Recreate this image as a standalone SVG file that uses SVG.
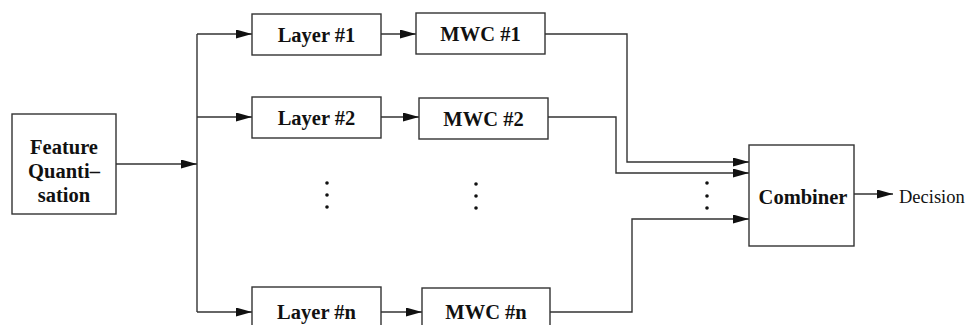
<svg xmlns="http://www.w3.org/2000/svg" width="968" height="325" viewBox="0 0 968 325">
<defs>
<marker id="ah" markerUnits="userSpaceOnUse" markerWidth="17" markerHeight="10" refX="16" refY="4.5" orient="auto">
<path d="M0,0 L16,4.5 L0,9 Z" fill="#111"/>
</marker>
<style>
.box{fill:#fff;stroke:#333;stroke-width:1.4}
.ln{fill:none;stroke:#333;stroke-width:1.4}
.b{font-family:"Liberation Serif","Times New Roman",serif;font-weight:bold;font-size:20.5px;fill:#111;text-anchor:middle}
.r{font-family:"Liberation Serif","Times New Roman",serif;font-size:18.5px;fill:#111}
.dot{fill:#111}
</style>
</defs>
<g id="connectors">
<path class="ln" d="M116,164 H197" marker-end="url(#ah)"/>
<path class="ln" d="M197,34 V312"/>
<path class="ln" d="M197,34 H252" marker-end="url(#ah)"/>
<path class="ln" d="M197,117 H252" marker-end="url(#ah)"/>
<path class="ln" d="M197,312 H252" marker-end="url(#ah)"/>
<path class="ln" d="M381,34 H416" marker-end="url(#ah)"/>
<path class="ln" d="M381,117 H419" marker-end="url(#ah)"/>
<path class="ln" d="M381,312 H422" marker-end="url(#ah)"/>
<path class="ln" d="M545,34 H627 V162 H749" marker-end="url(#ah)"/>
<path class="ln" d="M548,117 H616 V173 H749" marker-end="url(#ah)"/>
<path class="ln" d="M550,312 H632 V219 H749" marker-end="url(#ah)"/>
<path class="ln" d="M854,194 H893" marker-end="url(#ah)"/>
</g>
<g id="feature">
<rect class="box" x="12" y="114" width="104" height="100"/>
<text class="b" x="64" y="154">Feature</text>
<text class="b" x="64" y="178">Quanti–</text>
<text class="b" x="64" y="202">sation</text>
</g>
<g id="layer1"><rect class="box" x="252" y="14" width="129" height="41"/><text class="b" x="316.5" y="41.5">Layer #1</text></g>
<g id="layer2"><rect class="box" x="252" y="97" width="129" height="41"/><text class="b" x="316.5" y="124.5">Layer #2</text></g>
<g id="layern"><rect class="box" x="252" y="287" width="129" height="42"/><text class="b" x="316.5" y="319">Layer #n</text></g>
<g id="mwc1"><rect class="box" x="416" y="13" width="129" height="41"/><text class="b" x="480.5" y="40.5">MWC #1</text></g>
<g id="mwc2"><rect class="box" x="419" y="98" width="129" height="41"/><text class="b" x="483.5" y="125.5">MWC #2</text></g>
<g id="mwcn"><rect class="box" x="422" y="288" width="128" height="42"/><text class="b" x="486" y="319">MWC #n</text></g>
<g id="combiner"><rect class="box" x="749" y="145" width="105" height="101"/><text class="b" x="803" y="204">Combiner</text></g>
<g id="decision"><text class="r" x="899" y="203">Decision</text></g>
<g id="dots">
<circle class="dot" cx="327" cy="183" r="1.8"/><circle class="dot" cx="327" cy="195" r="1.8"/><circle class="dot" cx="327" cy="207" r="1.8"/>
<circle class="dot" cx="476" cy="184" r="1.8"/><circle class="dot" cx="476" cy="196" r="1.8"/><circle class="dot" cx="476" cy="208" r="1.8"/>
<circle class="dot" cx="707" cy="183" r="1.8"/><circle class="dot" cx="707" cy="196" r="1.8"/><circle class="dot" cx="707" cy="208" r="1.8"/>
</g>
</svg>
